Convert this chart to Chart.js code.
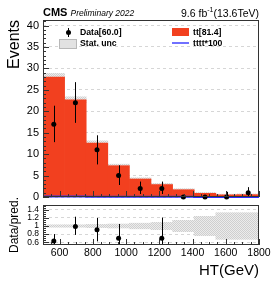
<!DOCTYPE html>
<html>
<head>
<meta charset="utf-8">
<script src="https://cdn.jsdelivr.net/npm/chart.js@4.4.0/dist/chart.umd.min.js"></script>
<style>
  html, body { margin: 0; padding: 0; background: #fff; }
  #wrap { position: relative; width: 273px; height: 282px; font-family: "Liberation Sans", Arial, sans-serif; color: #000; }
  canvas { position: absolute; left: 0; top: 0; }
  .t { position: absolute; white-space: nowrap; line-height: 1; }
  .lg { font-weight: bold; font-size: 8.7px; }
  .mk { position: absolute; }
</style>
</head>
<body>
<div id="wrap">
  <canvas id="upper" width="273" height="282"></canvas>
  <canvas id="lower" width="273" height="282"></canvas>

  <div class="t" style="left:43px;top:7px;font-size:11px;font-weight:bold">CMS <i style="font-weight:normal;font-size:8.5px">Preliminary 2022</i></div>
  <div class="t" style="right:14px;top:6px;font-size:10.5px">9.6 fb<sup style="font-size:7px">-1</sup>(13.6TeV)</div>

  <span class="mk" style="left:66px;top:30px;width:5px;height:5px;border-radius:50%;background:#000"></span>
  <span class="mk" style="left:68px;top:28px;width:1px;height:9px;background:#000"></span>
  <div class="t lg" style="left:80px;top:28px">Data[60.0]</div>
  <span class="mk" style="left:59px;top:39px;width:16px;height:8px;background:#e2e2e2;border:1px solid #b8b8b8"></span>
  <div class="t lg" style="left:80px;top:39px">Stat. unc</div>
  <span class="mk" style="left:172px;top:28px;width:17px;height:8px;background:#f2401f"></span>
  <div class="t lg" style="left:193px;top:28px">tt[81.4]</div>
  <span class="mk" style="left:172px;top:42px;width:17px;height:2px;background:#7070ff"></span>
  <div class="t lg" style="left:193px;top:39px">tttt*100</div>
</div>

<script>
// HT bins (GeV)
const binEdges = [500, 630, 760, 890, 1020, 1150, 1280, 1410, 1540, 1670, 1800];
const binCenters = [565, 695, 825, 955, 1085, 1215, 1345, 1475, 1605, 1735];

// predicted yields and relative stat uncertainty
const ttYield = [28.0, 22.7, 12.6, 7.3, 4.2, 2.9, 1.7, 0.85, 0.5, 0.55];
const statRel = [0.03, 0.03, 0.04, 0.05, 0.07, 0.09, 0.14, 0.24, 0.33, 0.33];
const ttttX100 = [0.12, 0.10, 0.08, 0.06, 0.05, 0.04, 0.03, 0.02, 0.02, 0.02];

// observed data
const dataCounts = [17, 22, 11, 5, 2, 2, 0, 0, 0, 1];
const dataErrLo = [12.8, 17.3, 7.6, 2.8, 0.7, 0.7, 0, 0, 0, 0.2];
const dataErrHi = [21.3, 26.8, 14.4, 7.4, 3.6, 3.6, 0, 0, 1.2, 2.3];

// data / prediction (points outside the panel are left out)
const ratioVals = [0.63, 0.99, 0.91, 0.70, null, 0.70, null, null, null, null];
const ratioErrLo = [0.45, 0.78, 0.62, 0.45, null, 0.45, null, null, null, null];
const ratioErrHi = [0.80, 1.23, 1.20, 1.05, null, 1.21, null, null, null, null];

// tick labels
const eventTicks = [0, 5, 10, 15, 20, 25, 30, 35, 40];
const ratioTicks = [0.6, 0.8, 1, 1.2, 1.4];
const ratioTickLabels = ['0.6', '0.8', '1', '1.2', '1.4'];
const htTicks = [600, 800, 1000, 1200, 1400, 1600, 1800];

const RED = '#f2401f';
const FONT = '"Liberation Sans", Arial, sans-serif';

function dotPattern() {
  const c = document.createElement('canvas');
  c.width = 2; c.height = 2;
  const g = c.getContext('2d');
  g.fillStyle = '#cfcfcf';
  g.fillRect(0, 0, 1, 1); g.fillRect(1, 1, 1, 1);
  g.fillStyle = '#ececec';
  g.fillRect(1, 0, 1, 1); g.fillRect(0, 1, 1, 1);
  return g.createPattern(c, 'repeat');
}
const band = dotPattern();

// vertical error bars, drawn through the chart scales
const errorBars = {
  id: 'errorBars',
  afterDatasetsDraw(chart, args, opts) {
    const { ctx, chartArea: a, scales: { x, y } } = chart;
    ctx.save();
    ctx.beginPath();
    ctx.rect(a.left, a.top, a.width, a.height);
    ctx.clip();
    ctx.strokeStyle = '#000';
    ctx.lineWidth = 1;
    opts.lo.forEach((lo, i) => {
      const hi = opts.hi[i];
      if (lo == null || hi == null || hi <= lo) return;
      const px = Math.round(x.getPixelForValue(binCenters[i])) + 0.5;
      ctx.beginPath();
      ctx.moveTo(px, y.getPixelForValue(lo));
      ctx.lineTo(px, y.getPixelForValue(hi));
      ctx.stroke();
    });
    ctx.restore();
  }
};

// ROOT-like frame with inside ticks
const frame = {
  id: 'frame',
  afterDraw(chart, args, opts) {
    const { ctx, chartArea: a, scales: { x, y } } = chart;
    ctx.save();
    ctx.strokeStyle = '#333';
    ctx.lineWidth = 1;
    ctx.strokeRect(a.left + 0.5, a.top + 0.5, a.width - 1, a.height - 1);
    ctx.beginPath();
    for (let v = 500; v <= 1800; v += 50) {
      const px = Math.round(x.getPixelForValue(v)) + 0.5;
      const len = v % 200 === 0 ? 6 : 3;
      ctx.moveTo(px, a.bottom);
      ctx.lineTo(px, a.bottom - len);
    }
    for (let v = opts.yMin; v <= opts.yMax + 1e-9; v += opts.yMinor) {
      const py = Math.round(y.getPixelForValue(v)) + 0.5;
      const major = Math.abs(v / opts.yMajor - Math.round(v / opts.yMajor)) < 1e-6;
      ctx.moveTo(a.left, py);
      ctx.lineTo(a.left + (major ? 6 : 3), py);
    }
    ctx.stroke();
    ctx.restore();
  }
};

new Chart(document.getElementById('upper'), {
  type: 'bar',
  plugins: [errorBars, frame],
  data: {
    datasets: [
      {
        type: 'line',
        label: 'Data[60.0]',
        data: binCenters.map((x, i) => ({ x, y: dataCounts[i] })),
        showLine: false,
        pointRadius: 2.5,
        pointBackgroundColor: '#000',
        pointBorderWidth: 0,
        clip: false,
        order: 0
      },
      {
        type: 'line',
        label: 'tttt*100',
        data: binEdges.map((x, i) => ({ x, y: ttttX100[Math.min(i, ttttX100.length - 1)] })),
        stepped: true,
        borderColor: '#2a2aff',
        borderWidth: 2,
        pointRadius: 0,
        clip: false,
        order: 1
      },
      {
        label: 'tt[81.4]',
        data: binCenters.map((x, i) => ({ x, y: ttYield[i] })),
        backgroundColor: RED,
        borderWidth: 0,
        grouped: false,
        barPercentage: 1,
        categoryPercentage: 1,
        order: 2
      },
      {
        label: 'Stat. unc',
        data: binCenters.map((x, i) => ({ x, y: [ttYield[i] * (1 - statRel[i]), ttYield[i] * (1 + statRel[i])] })),
        backgroundColor: band,
        borderWidth: 0,
        grouped: false,
        barPercentage: 1,
        categoryPercentage: 1,
        order: 3
      }
    ]
  },
  options: {
    responsive: false,
    animation: false,
    events: [],
    layout: { padding: { left: 0, top: 20, right: 14, bottom: 85 } },
    plugins: {
      legend: { display: false },
      tooltip: { enabled: false },
      errorBars: { lo: dataErrLo, hi: dataErrHi },
      frame: { yMin: 0, yMax: 41.3, yMinor: 1, yMajor: 5 }
    },
    scales: {
      x: {
        type: 'linear',
        min: 500,
        max: 1800,
        offset: false,
        display: false,
        grid: { offset: false }
      },
      y: {
        min: 0,
        max: 41.3,
        afterBuildTicks: s => { s.ticks = eventTicks.map(v => ({ value: v })); },
        afterFit: s => { s.width = 43; },
        ticks: { color: '#000', padding: 4, autoSkip: false, font: { family: FONT, size: 11 } },
        grid: { color: '#d6d6d6', drawTicks: false },
        border: { display: false, dash: [3, 3] },
        title: {
          display: true,
          text: 'Events',
          align: 'end',
          color: '#000',
          font: { family: FONT, size: 16 },
          padding: { top: 5, bottom: 0 }
        }
      }
    }
  }
});

new Chart(document.getElementById('lower'), {
  type: 'bar',
  plugins: [errorBars, frame],
  data: {
    datasets: [
      {
        type: 'line',
        label: 'Data/pred.',
        data: binCenters.map((x, i) => ({ x, y: ratioVals[i] })),
        showLine: false,
        pointRadius: 2.5,
        pointBackgroundColor: '#000',
        pointBorderWidth: 0,
        order: 0
      },
      {
        label: 'Stat. unc',
        data: binCenters.map((x, i) => ({ x, y: [1 - statRel[i], 1 + statRel[i]] })),
        backgroundColor: band,
        borderWidth: 0,
        grouped: false,
        barPercentage: 1,
        categoryPercentage: 1,
        order: 1
      }
    ]
  },
  options: {
    responsive: false,
    animation: false,
    events: [],
    layout: { padding: { left: 0, top: 205, right: 14, bottom: 0 } },
    plugins: {
      legend: { display: false },
      tooltip: { enabled: false },
      errorBars: { lo: ratioErrLo, hi: ratioErrHi },
      frame: { yMin: 0.55, yMax: 1.5, yMinor: 0.05, yMajor: 0.2 }
    },
    scales: {
      x: {
        type: 'linear',
        min: 500,
        max: 1800,
        offset: false,
        afterBuildTicks: s => { s.ticks = htTicks.map(v => ({ value: v })); },
        afterFit: s => { s.height = 37; },
        ticks: {
          color: '#000',
          padding: 2,
          maxRotation: 0,
          autoSkip: false,
          font: { family: FONT, size: 10.5 },
          callback: (v, i) => String(htTicks[i])
        },
        grid: { display: false, offset: false, drawTicks: false },
        border: { display: false },
        title: {
          display: true,
          text: 'HT(GeV)',
          align: 'end',
          color: '#000',
          font: { family: FONT, size: 15 },
          padding: { top: 0, bottom: 2 }
        }
      },
      y: {
        min: 0.53,
        max: 1.52,
        afterBuildTicks: s => { s.ticks = ratioTicks.map(v => ({ value: v })); },
        afterFit: s => { s.width = 43; },
        ticks: {
          color: '#000',
          padding: 4,
          autoSkip: false,
          font: { family: FONT, size: 8.5 },
          callback: (v, i) => ratioTickLabels[i]
        },
        grid: { color: '#d6d6d6', drawTicks: false },
        border: { display: false, dash: [3, 3] },
        title: {
          display: true,
          text: 'Data/pred.',
          color: '#000',
          font: { family: FONT, size: 12 },
          padding: { top: 7, bottom: 0 }
        }
      }
    }
  }
});
</script>
</body>
</html>
